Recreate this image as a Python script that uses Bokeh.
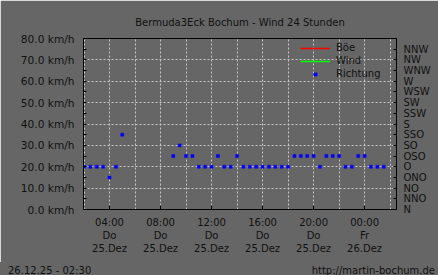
import math
from bokeh.plotting import figure
from bokeh.layouts import column
from bokeh.models import (Range1d, LinearAxis, FixedTicker, Legend, LegendItem, Div)
from bokeh.embed import file_html
from bokeh.resources import INLINE

# ---- data ----
title_text = "Bermuda3Eck Bochum - Wind 24 Stunden"
stamp_text = "26.12.25 - 02:30"
url_text = "http://martin-bochum.de"

# hours since 25.12. 00:00
hours = [2.0, 2.5, 3.0, 3.5, 4.0, 4.5, 5.0,
         9.0, 9.5, 10.0, 10.5, 11.0, 11.5, 12.0, 12.5, 13.0, 13.5, 14.0, 14.5,
         15.0, 15.5, 16.0, 16.5, 17.0, 17.5, 18.0, 18.5, 19.0, 19.5, 20.0, 20.5,
         21.0, 21.5, 22.0, 22.5, 23.0, 23.5, 24.0, 24.5, 25.0, 25.5]
direction = ["O", "O", "O", "O", "ONO", "O", "SSO",
             "OSO", "SO", "OSO", "OSO", "O", "O", "O", "OSO", "O", "O", "OSO", "O",
             "O", "O", "O", "O", "O", "O", "O", "OSO", "OSO", "OSO", "OSO", "O",
             "OSO", "OSO", "OSO", "O", "O", "OSO", "OSO", "O", "O", "O"]
# wind / gust: no values visible in the picture (no data)
wind_hours = [2.0]
wind_kmh = [math.nan]
gust_kmh = [math.nan]

sectors = ["N", "NNO", "NO", "ONO", "O", "OSO", "SO", "SSO",
           "S", "SSW", "SW", "WSW", "W", "WNW", "NW", "NNW"]
speed_ticks = [0, 10, 20, 30, 40, 50, 60, 70, 80]
time_ticks = [4, 8, 12, 16, 20, 24]
time_labels = ["04:00\nDo\n25.Dez", "08:00\nDo\n25.Dez", "12:00\nDo\n25.Dez",
               "16:00\nDo\n25.Dez", "20:00\nDo\n25.Dez", "00:00\nFr\n26.Dez"]
grid_hours = [2, 4, 6, 8, 10, 12, 14, 16, 18, 20, 22, 24, 26]

dir_deg = [sectors.index(d) * 22.5 for d in direction]

BG = "#666666"
TXT = "#111111"
FONT = "DejaVu Sans"
FS = "10px"

p = figure(width=438, height=262, output_backend="svg", toolbar_location=None,
           x_range=Range1d(1.96, 26.5), y_range=Range1d(0, 80),
           background_fill_color=BG, border_fill_color=BG,
           min_border_left=83, min_border_right=42, min_border_top=38, min_border_bottom=53)
p.extra_y_ranges = {"dir": Range1d(0, 360)}
p.outline_line_color = "black"
p.outline_line_width = 1

p.title.text = title_text
p.title.align = "center"
p.title.text_font = FONT
p.title.text_font_size = FS
p.title.text_font_style = "normal"
p.title.text_color = TXT
p.title.standoff = 22

# left axis
ya = p.yaxis[0]
ya.ticker = FixedTicker(ticks=speed_ticks, minor_ticks=[5 + 10 * i for i in range(8)])
ya.major_label_overrides = {t: f"{t:.1f} km/h" for t in speed_ticks}
ya.major_tick_in = 3
ya.major_tick_out = 0
ya.minor_tick_in = 3
ya.minor_tick_out = 0
ya.major_label_standoff = 9
ya.axis_line_color = "black"
ya.major_tick_line_color = "black"
ya.minor_tick_line_color = "black"
ya.major_label_text_font = FONT
ya.major_label_text_font_size = "10.6px"
ya.major_label_text_color = TXT

# bottom axis
xa = p.xaxis[0]
xa.ticker = FixedTicker(ticks=time_ticks, minor_ticks=[])
xa.major_label_overrides = dict(zip(time_ticks, time_labels))
xa.major_tick_in = 4
xa.major_tick_out = 0
xa.minor_tick_in = 0
xa.minor_tick_out = 0
xa.major_label_standoff = 7
xa.axis_line_color = "black"
xa.major_tick_line_color = "black"
xa.major_label_text_font = FONT
xa.major_label_text_font_size = FS
xa.major_label_text_color = TXT
xa.major_label_text_line_height = 1.22

# right axis (direction)
ra = LinearAxis(y_range_name="dir",
                ticker=FixedTicker(ticks=[i * 22.5 for i in range(16)], minor_ticks=[]))
ra.major_label_overrides = {i * 22.5: s for i, s in enumerate(sectors)}
ra.major_tick_in = 3
ra.major_tick_out = 0
ra.minor_tick_in = 0
ra.minor_tick_out = 0
ra.major_label_standoff = 7
ra.axis_line_color = "black"
ra.major_tick_line_color = "black"
ra.major_label_text_font = FONT
ra.major_label_text_font_size = FS
ra.major_label_text_color = TXT
p.add_layout(ra, "right")

# grids
p.xgrid.ticker = FixedTicker(ticks=grid_hours)
for g in (p.xgrid[0], p.ygrid[0]):
    g.grid_line_color = "#c8c8c8"
    g.grid_line_dash = "2 2"
    g.grid_line_width = 1

# series
r_gust = p.line(wind_hours, gust_kmh, line_color="#ff0000", line_width=1.5)
r_wind = p.line(wind_hours, wind_kmh, line_color="#00ff00", line_width=1.5)
r_dir = p.scatter(hours, dir_deg, y_range_name="dir", marker="square", size=3,
                  fill_color="#0000ff", line_color="#0000ff", line_width=0.5)

legend = Legend(items=[LegendItem(label="Böe", renderers=[r_gust]),
                       LegendItem(label="Wind", renderers=[r_wind]),
                       LegendItem(label="Richtung", renderers=[r_dir])],
                location=(215, 127), background_fill_alpha=0, border_line_alpha=0,
                glyph_width=30, glyph_height=8, label_height=13, spacing=0,
                padding=2, margin=0, label_standoff=6,
                label_text_font=FONT, label_text_font_size=FS, label_text_color=TXT)
p.add_layout(legend)

# footer strip
foot_html = (
    '<div style="display:flex;justify-content:space-between;align-items:center;'
    'box-sizing:border-box;width:438px;height:13px;padding:0 3px 0 8px;'
    f'font-family:\'DejaVu Sans\';font-size:10px;line-height:13px;color:{TXT};">'
    f'<span>{stamp_text}</span><span>{url_text}</span></div>'
)
foot = Div(text=foot_html, width=438, height=13,
           styles={"background-color": BG, "margin": "0", "padding": "0"})

layout = column(p, foot, spacing=0)
open("out.html", "w").write(file_html(layout, INLINE))
